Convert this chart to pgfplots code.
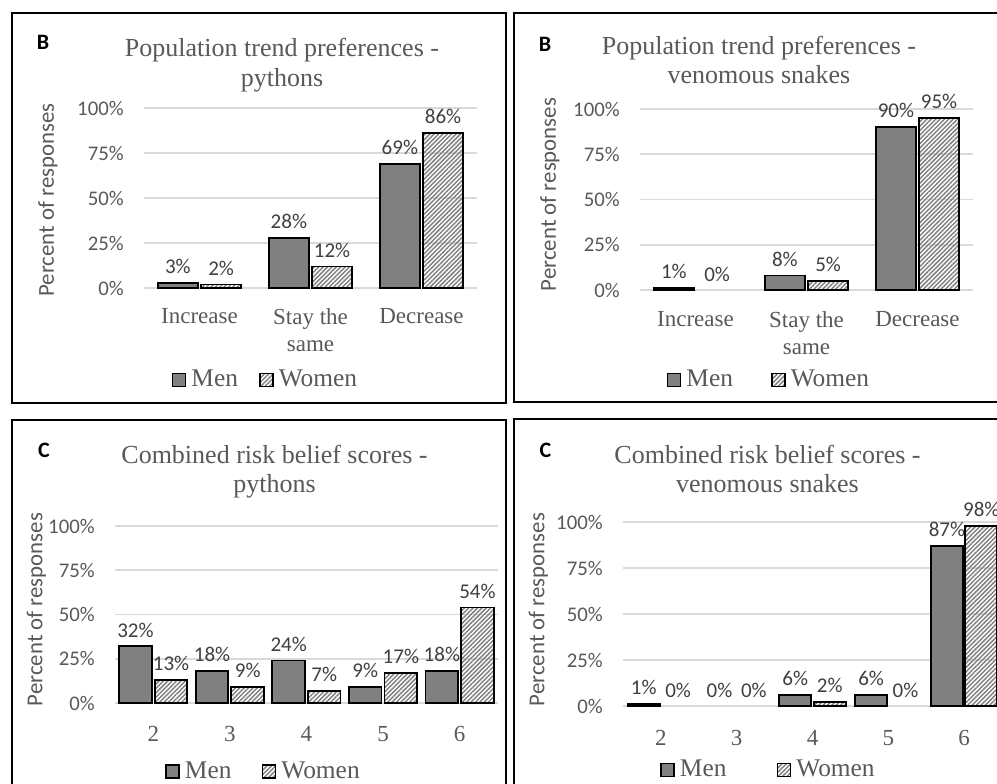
\documentclass[border=0pt]{standalone}
\usepackage{pgfplots}
\pgfplotsset{compat=1.18}
\usetikzlibrary{patterns.meta}
\usepackage{fontspec}
\setmainfont{Liberation Serif}
\newfontfamily\carlito{Carlito}
\definecolor{txt}{HTML}{595959}
\definecolor{lbl}{HTML}{404040}
\definecolor{menfill}{HTML}{808080}
\definecolor{hatch}{HTML}{7F7F7F}
\definecolor{gridc}{HTML}{D9D9D9}

\pgfplotsset{
  panel/.style={
    scale only axis, clip=false, ybar,
    ymin=0, ymax=100,
    ytick={0,25,50,75,100},
    yticklabels={0\%,25\%,50\%,75\%,100\%},
    axis line style={draw=none},
    major tick length=0pt,
    ymajorgrids, grid style={draw=gridc, line width=0.8pt},
    /pgf/number format/assume math mode=true,
    yticklabel style={font=\carlito\fontsize{10.4}{12}\selectfont, text=txt, anchor=east, xshift=-6.6pt},
    xticklabel style={font=\fontsize{11.5}{13.5}\selectfont, text=txt, align=center, anchor=north},
    nodes near coords={\pgfmathprintnumber[fixed,precision=0,assume math mode=true]{\pgfplotspointmeta}\%},
    nodes near coords style={font=\carlito\fontsize{10.5}{12}\selectfont, text=lbl, yshift=0.8pt},
    legend columns=2,
    legend style={draw=none, fill=none, inner sep=0pt, outer sep=0pt, anchor=west,
      font=\fontsize{12.7}{14}\selectfont, text=txt,
      nodes={inner sep=0pt},
      /tikz/every odd column/.append style={column sep=2.5pt}},
  },
  sq/.style={legend image code/.code={\draw[##1, line width=0.9pt] (0pt,-3.25pt) rectangle (6.5pt,3.25pt);}},
  men/.style={draw=black, line width=0.9pt, fill=menfill, sq},
  women/.style={draw=black, line width=0.9pt, pattern={Lines[angle=45,distance=1.55pt,line width=0.72pt]}, pattern color=hatch, sq},
  zero/.style={draw=none, fill=none, forget plot},
}

\begin{document}
\begin{tikzpicture}
\useasboundingbox (0,0) rectangle (498.5pt,391.5pt);
\clip (0,0) rectangle (498.5pt,391.5pt);
\fill[white] (0,0) rectangle (498.5pt,391.5pt);

% panel borders
\draw[line width=1pt] (6pt,385pt) rectangle (253pt,190pt);
\draw[line width=1pt] (505pt,385pt) -- (257pt,385pt) -- (257pt,190.5pt) -- (505pt,190.5pt);
\draw[line width=1pt] (6pt,-5pt) -- (6pt,181.5pt) -- (253pt,181.5pt) -- (253pt,-5pt);
\draw[line width=1pt] (257pt,-5pt) -- (257pt,182pt) -- (505pt,182pt);

% ---------------- Top left
\begin{axis}[panel, at={(72pt,247.5pt)}, anchor=south west,
  width=166.5pt, height=90pt,
  xmin=-0.5, xmax=2.5, xtick={0,1,2},
  xticklabels={Increase, Stay the\\same, Decrease},
  xticklabel style={yshift=-6.5pt},
  bar width=20.2pt,
  legend style={at={(0.083,-0.511)}, /tikz/every even column/.append style={column sep=10.5pt}}]
\addplot[men, bar shift=-10.8pt] coordinates {(0,3) (1,28) (2,69)};
\addplot[women, bar shift=10.8pt] coordinates {(0,2) (1,12) (2,86)};
\legend{Men, Women}
\end{axis}
\node[anchor=base, font=\fontsize{13}{15}\selectfont, text=txt] at (141pt,363pt) {Population trend preferences -};
\node[anchor=base, font=\fontsize{13}{15}\selectfont, text=txt] at (141pt,348pt) {pythons};
\node[anchor=base, font=\carlito\bfseries\fontsize{11}{13}\selectfont] at (21.5pt,366.5pt) {B};
\node[rotate=90, font=\carlito\fontsize{11.4}{13}\selectfont, text=txt] at (24pt,291.5pt) {Percent of responses};

% ---------------- Top right
\begin{axis}[panel, at={(320pt,246.5pt)}, anchor=south west,
  width=166.5pt, height=90.5pt,
  xmin=-0.5, xmax=2.5, xtick={0,1,2},
  xticklabels={Increase, Stay the\\same, Decrease},
  xticklabel style={yshift=-7pt},
  bar width=20.2pt,
  legend style={at={(0.080,-0.497)}, /tikz/every even column/.append style={column sep=19pt}}]
\addplot[men, bar shift=-10.8pt] coordinates {(0,1) (1,8) (2,90)};
\addplot[women, bar shift=10.8pt] coordinates {(1,5) (2,95)};
\addplot[zero, bar shift=10.8pt] coordinates {(0,0)};
\legend{Men, Women}
\end{axis}
\node[anchor=base, font=\fontsize{13}{15}\selectfont, text=txt] at (379.5pt,364pt) {Population trend preferences -};
\node[anchor=base, font=\fontsize{13}{15}\selectfont, text=txt] at (379.5pt,349.5pt) {venomous snakes};
\node[anchor=base, font=\carlito\bfseries\fontsize{11}{13}\selectfont] at (272.5pt,365.5pt) {B};
\node[rotate=90, font=\carlito\fontsize{11.4}{13}\selectfont, text=txt] at (275pt,294.25pt) {Percent of responses};

% ---------------- Bottom left
\begin{axis}[panel, at={(57.5pt,40pt)}, anchor=south west,
  width=191.5pt, height=88.5pt,
  xmin=-0.5, xmax=4.5, xtick={0,1,2,3,4},
  xticklabels={2,3,4,5,6},
  xticklabel style={yshift=-8.2pt},
  bar width=16.3pt,
  legend style={at={(0.131,-0.388)}, /tikz/every even column/.append style={column sep=15pt}}]
\addplot[men, bar shift=-8.9pt] coordinates {(0,32) (1,18) (2,24) (3,9) (4,18)};
\addplot[women, bar shift=8.9pt] coordinates {(0,13) (1,9) (2,7) (3,17) (4,54)};
\legend{Men, Women}
\end{axis}
\node[anchor=base, font=\fontsize{13}{15}\selectfont, text=txt] at (137.25pt,159.5pt) {Combined risk belief scores -};
\node[anchor=base, font=\fontsize{13}{15}\selectfont, text=txt] at (137.25pt,145pt) {pythons};
\node[anchor=base, font=\carlito\bfseries\fontsize{11}{13}\selectfont] at (22pt,162.5pt) {C};
\node[rotate=90, font=\carlito\fontsize{11.4}{13}\selectfont, text=txt] at (18.25pt,86.75pt) {Percent of responses};

% ---------------- Bottom right
\begin{axis}[panel, at={(311.5pt,38.5pt)}, anchor=south west,
  width=189.5pt, height=92pt,
  xmin=-0.5, xmax=4.5, xtick={0,1,2,3,4},
  xticklabels={2,3,4,5,6},
  xticklabel style={yshift=-8.7pt},
  bar width=16pt,
  legend style={at={(0.098,-0.348)}, /tikz/every even column/.append style={column sep=25pt}}]
\addplot[men, bar shift=-8.6pt] coordinates {(0,1) (2,6) (3,6) (4,87)};
\addplot[women, bar shift=8.6pt] coordinates {(2,2) (4,98)};
\addplot[zero, bar shift=-8.6pt] coordinates {(1,0)};
\addplot[zero, bar shift=8.6pt] coordinates {(0,0) (1,0) (3,0)};
\legend{Men, Women}
\end{axis}
\node[anchor=base, font=\fontsize{13}{15}\selectfont, text=txt] at (383.75pt,159.5pt) {Combined risk belief scores -};
\node[anchor=base, font=\fontsize{13}{15}\selectfont, text=txt] at (383.75pt,145pt) {venomous snakes};
\node[anchor=base, font=\carlito\bfseries\fontsize{11}{13}\selectfont] at (272.75pt,162.5pt) {C};
\node[rotate=90, font=\carlito\fontsize{11.4}{13}\selectfont, text=txt] at (269.25pt,86.75pt) {Percent of responses};
\end{tikzpicture}
\end{document}
